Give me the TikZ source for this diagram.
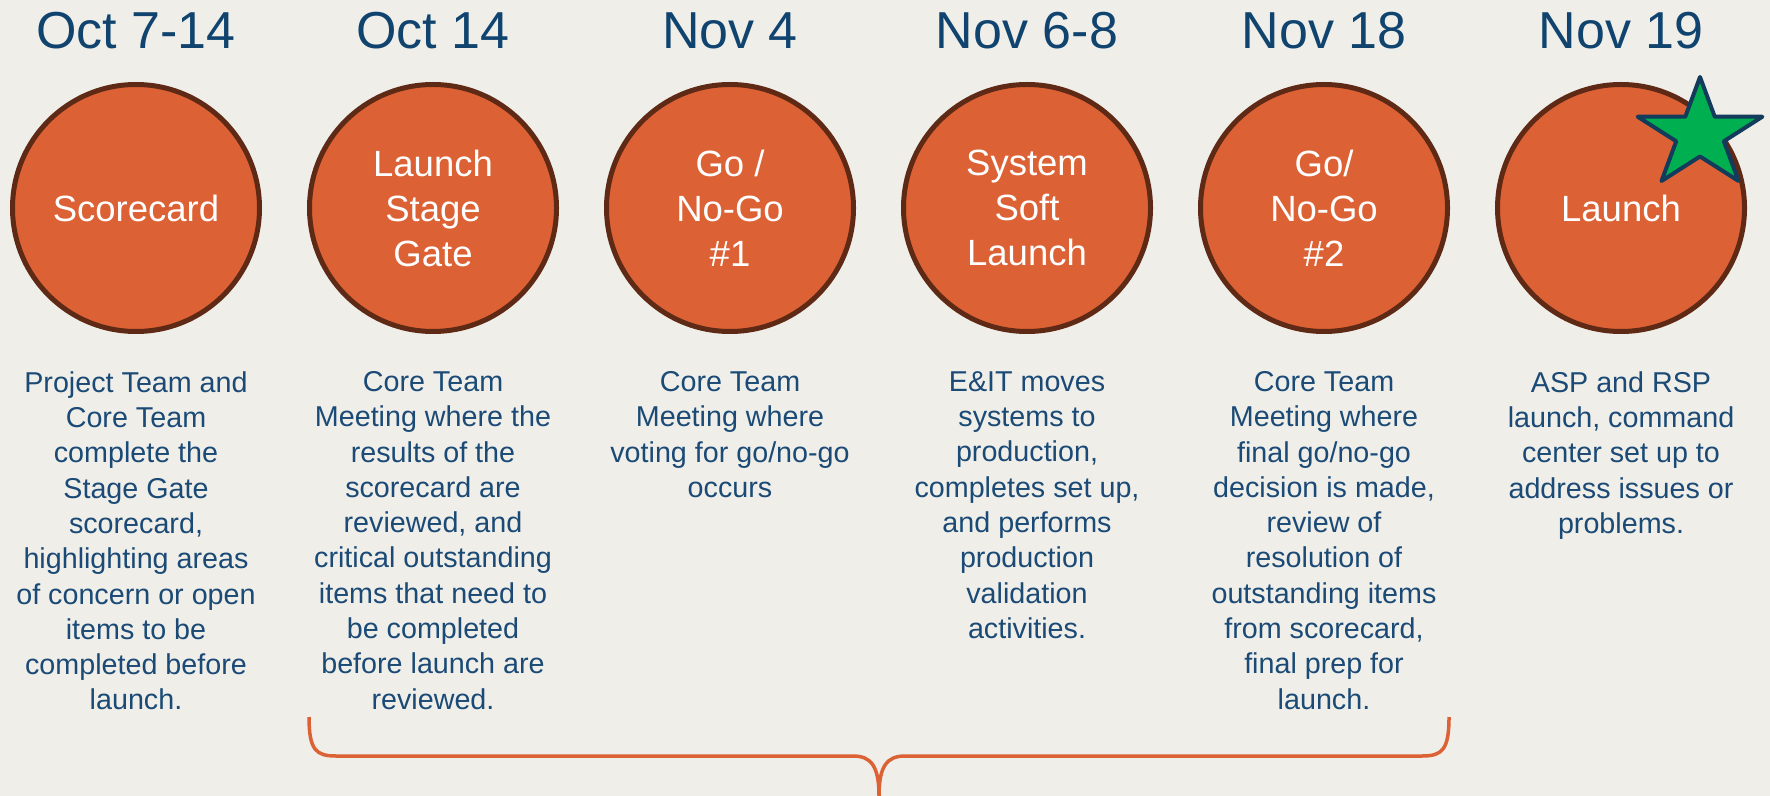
\documentclass[tikz,border=0pt]{standalone}
\usepackage{fontspec}
\setmainfont{Liberation Sans}
\usepackage{tikz}
\usetikzlibrary{positioning}
\usetikzlibrary{shapes.geometric}
\definecolor{bgcol}{HTML}{F0EEE9}
\definecolor{rust}{HTML}{DC6134}
\definecolor{darkrust}{HTML}{5E2915}
\definecolor{navy}{HTML}{10446F}
\definecolor{textnavy}{HTML}{1A4A75}
\definecolor{stargreen}{HTML}{00B050}
\definecolor{starline}{HTML}{133B5C}

\begin{document}
\begin{tikzpicture}[x=0.5pt, y=-0.5pt,
        stage/.style={circle, draw=darkrust, fill=rust, line width=2.5pt, minimum size=123.5pt, inner sep=0pt, text=white, align=center, font=\fontsize{18.25}{22.5}\selectfont},
        date/.style={inner sep=0pt, text=navy, font=\fontsize{26}{30}\selectfont},
        info/.style={inner sep=0pt, text=textnavy, align=center, font=\fontsize{14.35}{17.65}\selectfont},
        goldstar/.style={star, star points=5, star point ratio=2.618, minimum size=57.5pt, inner sep=0pt, fill=stargreen, draw=starline, line width=2pt, line join=round},
        brace/.style={draw=rust, line width=1.75pt}]
        \useasboundingbox (0,0) rectangle (1770,796);
        \fill[bgcol] (0,0) rectangle (1770,796);

        \node[stage] (sc) at (136,208) {Scorecard};
        \node[stage] (lsg) [right=22.5pt of sc] {Launch\\Stage\\Gate};
        \node[stage] (g1) [right=22.5pt of lsg] {Go /\\No-Go\\\#1};
        \node[stage] (ssl) [right=22.5pt of g1] {System\\Soft\\Launch};
        \node[stage] (g2) [right=22.5pt of ssl] {Go/\\No-Go\\\#2};
        \node[stage] (la) [right=22.5pt of g2] {Launch};
        \begin{scope}[shift={(1700,134.5)}, xscale=1.14]
            \node[goldstar, transform shape] (st) {};
        \end{scope}

        \node[date] (dsc) [above=16.5pt of sc] {Oct 7-14};
        \node[date] (dlsg) [above=16.5pt of lsg] {Oct 14};
        \node[date] (dg1) [above=16.5pt of g1] {Nov 4};
        \node[date] (dssl) [above=16.5pt of ssl] {Nov 6-8};
        \node[date] (dg2) [above=16.5pt of g2] {Nov 18};
        \node[date] (dla) [above=16.5pt of la] {Nov 19};

        \node[info] (tsc) [below=18.5pt of sc] {Project Team and\\Core Team\\complete the\\Stage Gate\\scorecard,\\highlighting areas\\of concern or open\\items to be\\completed before\\launch.};
        \node[info] (tlsg) [below=18.5pt of lsg] {Core Team\\Meeting where the\\results of the\\scorecard are\\reviewed, and\\critical outstanding\\items that need to\\be completed\\before launch are\\reviewed.};
        \node[info] (tg1) [below=18.5pt of g1] {Core Team\\Meeting where\\voting for go/no-go\\occurs};
        \node[info] (tssl) [below=18.5pt of ssl] {E\&IT moves\\systems to\\production,\\completes set up,\\and performs\\production\\validation\\activities.};
        \node[info] (tg2) [below=18.5pt of g2] {Core Team\\Meeting where\\final go/no-go\\decision is made,\\review of\\resolution of\\outstanding items\\from scorecard,\\final prep for\\launch.};
        \node[info] (tla) [below=18.5pt of la] {ASP and RSP\\launch, command\\center set up to\\address issues or\\problems.};

        \coordinate (bl) at (309,717);
        \coordinate (br) at (1449,717);
        \coordinate (tip) at (879,796);
        \draw[brace] (bl) .. controls (309,750) and (316,756) .. (336,756) -- (853,756)
              .. controls (871,756) and (879,766) .. (tip)
              .. controls (879,766) and (887,756) .. (905,756) -- (1422,756)
              .. controls (1442,756) and (1449,750) .. (br);
    \end{tikzpicture}
\end{document}
